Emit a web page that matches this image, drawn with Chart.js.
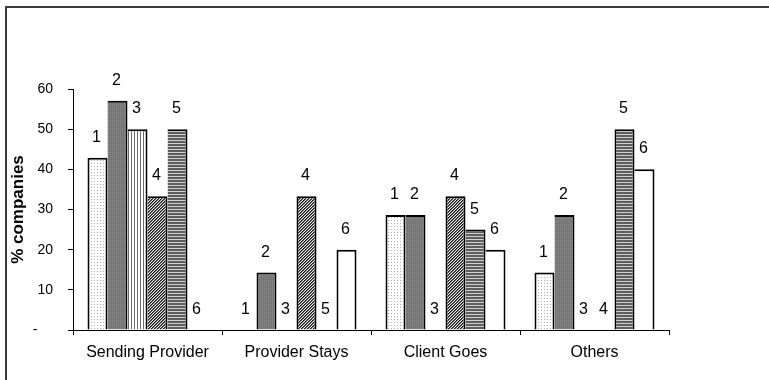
<!DOCTYPE html>
<html>
<head>
<meta charset="utf-8">
<script src="https://cdn.jsdelivr.net/npm/chart.js@4/dist/chart.umd.min.js"></script>
<style>
  html, body { margin: 0; padding: 0; background: #fff; }
  #wrap { width: 769px; height: 380px; }
</style>
</head>
<body>
<div id="wrap"><canvas id="c" width="769" height="380"></canvas></div>
<script>
// Outcome categories and the share of companies (%) for groups 1-6
const categories = ['Sending Provider', 'Provider Stays', 'Client Goes', 'Others'];
const seriesNames = ['1', '2', '3', '4', '5', '6'];
const group1 = [42.9, 0, 28.6, 14.3];
const group2 = [57.1, 14.3, 28.6, 28.6];
const group3 = [50, 0, 0, 0];
const group4 = [33.3, 33.3, 33.3, 0];
const group5 = [50, 0, 25, 50];
const group6 = [0, 20, 20, 40];
const yTicks = [0, 10, 20, 30, 40, 50, 60];

const allValues = [group1, group2, group3, group4, group5, group6];
const FONT = "'Liberation Sans', Arial, sans-serif";

// Small tiled fills in the style of monochrome print patterns
function tile(w, h, draw) {
  const cv = document.createElement('canvas');
  cv.width = w; cv.height = h;
  const g = cv.getContext('2d');
  draw(g);
  return document.getElementById('c').getContext('2d').createPattern(cv, 'repeat');
}
function px(g, x, y, col) { g.fillStyle = col; g.fillRect(x, y, 1, 1); }

const fills = [
  // light dots
  tile(3, 3, g => { g.fillStyle = '#fff'; g.fillRect(0, 0, 3, 3); px(g, 1, 1, '#b0b0b0'); }),
  // dark grey fine texture
  tile(2, 2, g => { g.fillStyle = '#7a7a7a'; g.fillRect(0, 0, 2, 2); px(g, 0, 0, '#868686'); px(g, 1, 1, '#707070'); }),
  // vertical lines
  tile(3, 1, g => { g.fillStyle = '#fff'; g.fillRect(0, 0, 3, 1); px(g, 2, 0, '#6a6a6a'); }),
  // dense diagonal hatch
  tile(3, 3, g => {
    g.fillStyle = '#f4f4f4'; g.fillRect(0, 0, 3, 3);
    for (let i = 0; i < 3; i++) { px(g, (2 - i + 3) % 3, i, '#111'); px(g, (3 - i + 3) % 3, i, '#666'); }
  }),
  // horizontal lines
  tile(1, 3, g => { g.fillStyle = '#5e5e5e'; g.fillRect(0, 0, 1, 3); px(g, 0, 2, '#cfcfcf'); }),
  // plain white
  '#ffffff'
];

const datasets = allValues.map((vals, i) => ({
  label: seriesNames[i],
  data: vals,
  backgroundColor: fills[i],
  borderColor: '#000',
  borderSkipped: 'start',
  inflateAmount: 0,
  borderWidth: ctx => ({
    top: 2,
    right: 2,
    bottom: 0,
    left: (ctx.datasetIndex === 0 || allValues[ctx.datasetIndex - 1][ctx.dataIndex] === 0) ? 2 : 0
  }),
  categoryPercentage: 120 / 149,
  barPercentage: 1.0
}));

// Series number written above every bar (including empty ones)
const barNumbers = {
  id: 'barNumbers',
  afterDatasetsDraw(chart) {
    const ctx = chart.ctx;
    ctx.save();
    ctx.font = '16px ' + FONT;
    ctx.fillStyle = '#000';
    ctx.textAlign = 'center';
    ctx.textBaseline = 'alphabetic';
    chart.data.datasets.forEach((ds, di) => {
      chart.getDatasetMeta(di).data.forEach(el => {
        ctx.fillText(ds.label, el.x - 1, el.y - 16);
      });
    });
    ctx.restore();
  }
};

// White page with a frame along the top and left edges
const frame = {
  id: 'frame',
  beforeDraw(chart) {
    const ctx = chart.ctx;
    ctx.save();
    ctx.fillStyle = '#fff';
    ctx.fillRect(0, 0, chart.width, chart.height);
    ctx.strokeStyle = '#3a3a3a';
    ctx.lineWidth = 2;
    ctx.beginPath();
    ctx.moveTo(6, chart.height);
    ctx.lineTo(6, 7);
    ctx.lineTo(chart.width, 7);
    ctx.stroke();
    ctx.restore();
  }
};

new Chart(document.getElementById('c'), {
  type: 'bar',
  data: { labels: categories, datasets },
  plugins: [frame, barNumbers],
  options: {
    responsive: false,
    animation: false,
    layout: { padding: { top: 89, right: 100, bottom: 0, left: 0 } },
    plugins: { legend: { display: false }, tooltip: { enabled: false } },
    scales: {
      x: {
        grid: { display: true, drawOnChartArea: false, offset: true, tickLength: 5, color: '#000', lineWidth: 1 },
        border: { display: true, color: '#000', width: 1 },
        ticks: { color: '#000', font: { family: FONT, size: 16 }, padding: 8, maxRotation: 0 },
        afterFit: s => { s.height = 50; }
      },
      y: {
        min: 0,
        max: 60,
        afterBuildTicks: s => { s.ticks = yTicks.map(v => ({ value: v })); },
        grid: { display: true, drawOnChartArea: false, tickLength: 5, color: '#000', lineWidth: 1 },
        border: { display: true, color: '#000', width: 1 },
        ticks: {
          color: '#000',
          font: { family: FONT, size: 14 },
          padding: 15,
          callback: v => (v === 0 ? '-    ' : String(v))
        },
        title: {
          display: true,
          text: '% companies',
          color: '#000',
          font: { family: FONT, size: 17, weight: 'bold' },
          padding: { top: 8, bottom: 4 }
        },
        afterFit: s => { s.width = 73; }
      }
    }
  }
});
</script>
</body>
</html>
